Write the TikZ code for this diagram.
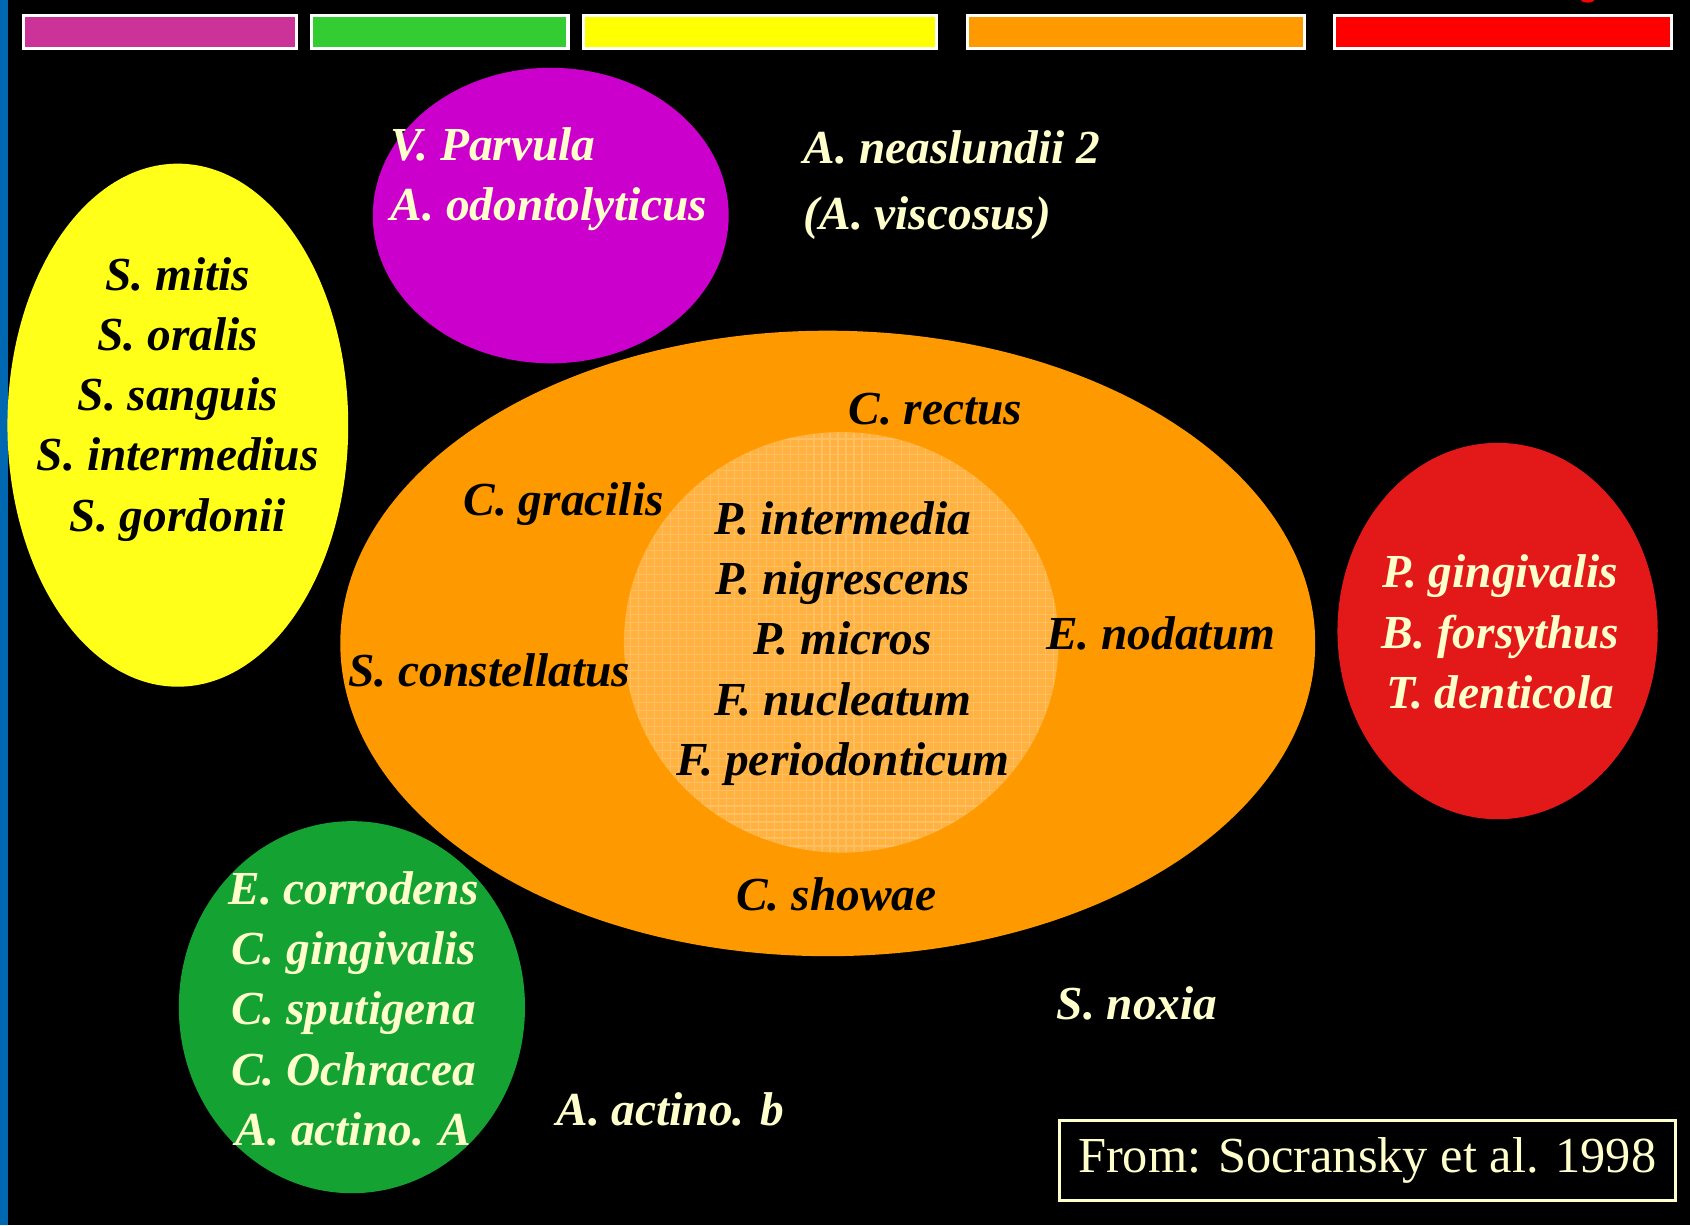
\documentclass[tikz,border=0pt]{standalone}
\usepackage{fontspec}
\setmainfont{Liberation Serif}
\usepackage{xcolor}
\usetikzlibrary{shapes.geometric}
\definecolor{stripeblue}{RGB}{0,104,176}
\definecolor{cream}{RGB}{255,255,204}
\definecolor{barpink}{RGB}{204,51,153}
\definecolor{bargreen}{RGB}{51,204,51}
\definecolor{baryellow}{RGB}{255,255,0}
\definecolor{barorange}{RGB}{255,153,0}
\definecolor{barred}{RGB}{255,0,0}
\definecolor{purplecx}{RGB}{204,0,204}
\definecolor{yellowcx}{RGB}{255,255,26}
\definecolor{orangecx}{RGB}{255,153,0}
\definecolor{innercx}{RGB}{255,178,64}
\definecolor{redcx}{RGB}{227,25,25}
\definecolor{greencx}{RGB}{20,163,50}

\begin{document}
\begin{tikzpicture}[x=0.01cm,y=-0.01cm,
    complex/.style={ellipse,inner sep=0pt},
    species/.style={font=\bfseries\itshape\fontsize{12.5}{15.9}\selectfont,align=center,inner sep=0pt},
    bar/.style={draw=white,line width=0.8pt}]
        % background
        \useasboundingbox (0,0) rectangle (1568,1137);
        \fill[black] (0,0) rectangle (1568,1137);
        \fill[stripeblue] (0,0) rectangle (7,1137);
        \draw[barred,line width=0.8pt] (1473,-2) ellipse (6 and 3);

        % colour bars
        \draw[bar,fill=barpink] (22,14) rectangle (275,45);
        \draw[bar,fill=bargreen] (289,14) rectangle (527,45);
        \draw[bar,fill=baryellow] (541,14) rectangle (869,45);
        \draw[bar,fill=barorange] (898,14) rectangle (1210,45);
        \draw[bar,fill=barred] (1238,14) rectangle (1551,45);

        % complexes
        \node[complex,fill=purplecx,minimum width=3.30cm,minimum height=2.74cm] (purple) at (511,200) {};
        \node[complex,fill=yellowcx,minimum width=3.16cm,minimum height=4.85cm] (yellow) at (165,394.5) {};
        \node[complex,fill=orangecx,minimum width=9.04cm,minimum height=5.80cm] (orange) at (768,597) {};
        \node[complex,fill=innercx,minimum width=4.03cm,minimum height=3.90cm] (inner) at (780.5,596) {};
        \begin{scope}
            \clip (780.5,596) ellipse (201.5 and 195);
            \draw[white,opacity=0.18,line width=0.3pt,step=0.074cm] (570,390) grid (995,805);
        \end{scope}
        \node[complex,fill=redcx,minimum width=2.97cm,minimum height=3.49cm] (red) at (1389.5,585.5) {};
        \node[complex,fill=greencx,minimum width=3.21cm,minimum height=3.45cm] (green) at (326.5,934.5) {};

        % species names
        \node[species,text=cream,align=left,anchor=west] (vparvula) at (362,166) {V. Parvula\\A. odontolyticus};
        \node[species,text=cream,align=left,anchor=west,font=\bfseries\itshape\fontsize{12.5}{17.3}\selectfont] (aneas) at (745,171.5) {A. neaslundii 2\\(A. viscosus)};
        \node[species] (smitis) at (165,370.5) {S. mitis\\S. oralis\\S. sanguis\\S. intermedius\\S. gordonii};
        \node[species] (crectus) at (868,380) {C. rectus};
        \node[species] (cgracilis) at (523,468) {C. gracilis};
        \node[species] (sconst) at (454,622) {S. constellatus};
        \node[species] (enodatum) at (1077,588) {E. nodatum};
        \node[species] (cshowae) at (776,830) {C. showae};
        \node[species] (pinter) at (782,597) {P. intermedia\\P. nigrescens\\P. micros\\F. nucleatum\\F. periodonticum};
        \node[species,text=cream] (pging) at (1392,586.5) {P. gingivalis\\B. forsythus\\T. denticola};
        \node[species,text=cream] (ecorr) at (328,936) {E. corrodens\\C. gingivalis\\C. sputigena\\C. Ochracea\\A. actino. A};
        \node[species,text=cream] (snoxia) at (1055,931) {S. noxia};
        \node[species,text=cream] (aactb) at (622,1029) {A. actino. b};

        % source
        \node[draw=cream,line width=0.8pt,text=cream,font=\fontsize{13.3}{16}\selectfont,minimum width=5.71cm,minimum height=0.74cm] (source) at (1268.5,1077) {From: Socransky et al. 1998};
    \end{tikzpicture}
\end{document}
